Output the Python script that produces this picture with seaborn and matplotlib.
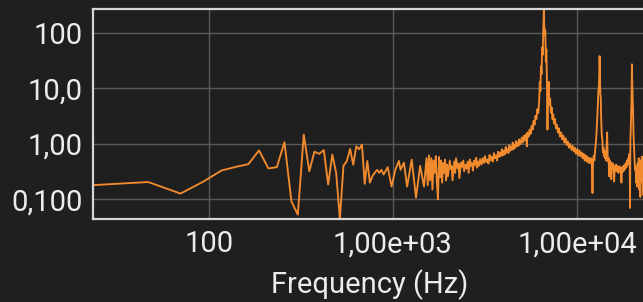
import matplotlib
matplotlib.use("Agg")
import matplotlib.pyplot as plt
from matplotlib.ticker import NullLocator
import seaborn as sns
import pandas as pd

# FFT bin width of the analyser (48 kHz, 2048 points)
bin_width_hz = 23.4375

# bin index and magnitude
bin_index = [
    1, 2, 3, 4, 5, 6, 7, 8, 9, 10, 11, 12, 13, 14, 15, 16, 17, 18, 19, 20, 21,
    22, 23, 24, 25, 26, 27, 28, 29, 30, 31, 32, 33, 34, 35, 36, 37, 38, 40, 41,
    42, 44, 46, 47, 49, 51, 54, 57, 60, 63, 65,
    66, 67, 68, 69, 70, 71, 72, 73, 74, 75, 76, 77, 78, 79, 80, 81, 82, 83,
    84, 85, 87, 88, 89, 90, 92, 93, 94, 96, 97, 98, 100, 101, 103, 104, 106,
    107, 109, 110, 112, 113, 115, 116, 118, 119, 121, 122, 124, 125, 127,
    129, 131, 133, 135, 137, 139, 141, 143, 145, 147, 149, 151, 153, 155, 157,
    159, 161, 163, 165, 167, 169, 171, 173, 175, 177, 179, 181, 183, 185, 187,
    189, 191, 193, 195, 197, 199, 201, 203, 205, 207, 209,
    211, 214, 217, 220, 223, 226, 228, 230, 233, 236, 239, 242, 245, 248, 251,
    254, 257, 260, 263, 266, 268, 270, 272, 274, 276, 278, 280, 282, 283, 285,
    287, 289, 291, 293, 295, 297, 300, 302, 305, 308, 311, 314, 317, 320, 324,
    328, 332, 336, 340, 345, 350, 355, 360, 365, 370, 375, 380, 386, 392, 398,
    404, 410, 416, 422, 428, 434, 440, 446, 452, 458, 464, 470, 476, 482, 488,
    494, 500,
    506, 510, 514, 518, 522, 526, 530, 534, 538, 542, 546, 550, 554, 557, 560,
    563, 566, 568, 571, 574, 578, 582, 586, 590, 594, 598, 602, 606, 610, 614,
    618, 622, 626, 630, 634, 638, 642, 646, 650, 655, 660, 665, 670, 675, 679,
    684, 690, 696, 702, 708, 714, 720, 726, 732, 738, 744, 750, 756, 762, 768,
    774, 780, 786, 792, 798, 804, 810, 815, 820, 825, 828, 832, 836, 840, 844,
    848, 852, 856, 860, 865, 870, 876, 882, 888, 894, 900, 906, 912, 918, 924,
    930, 936, 942, 948, 954, 960, 966, 972, 978, 984, 990, 1000, 1010, 1023,
]
magnitude = [
    0.18, 0.205, 0.127, 0.21, 0.33, 0.385, 0.43, 0.76, 0.36, 0.38, 1.07, 0.092,
    0.053, 1.47, 0.32, 0.72, 0.66, 0.77, 0.185, 0.64, 0.30,
    0.0437, 0.40, 0.49, 0.81, 0.42, 0.90, 0.80, 0.97, 0.19, 0.49, 0.20, 0.26,
    0.30, 0.34, 0.30, 0.34, 0.28, 0.38, 0.25, 0.17, 0.34, 0.49, 0.34, 0.46,
    0.17, 0.52, 0.107, 0.40, 0.17, 0.55,
    0.18, 0.62, 0.22, 0.55, 0.15, 0.50, 0.30, 0.60, 0.20, 0.10, 0.58, 0.25,
    0.50, 0.20, 0.45, 0.30, 0.52, 0.22,
    0.42, 0.26, 0.50, 0.35, 0.40, 0.22, 0.48, 0.30, 0.55, 0.36, 0.44, 0.24,
    0.46, 0.38, 0.50, 0.32, 0.42, 0.36, 0.48, 0.30, 0.52, 0.40, 0.45, 0.33,
    0.50, 0.42, 0.56, 0.37, 0.48, 0.40, 0.53,
    0.42, 0.55, 0.45, 0.60, 0.47, 0.52, 0.44, 0.63, 0.50, 0.58, 0.48, 0.68,
    0.55, 0.62, 0.50, 0.72, 0.58, 0.70, 0.60, 0.80, 0.62, 0.75, 0.64, 0.88,
    0.70, 0.80, 0.68, 0.95, 0.75, 0.88, 0.78, 1.05, 0.80, 0.95, 0.85, 1.12,
    0.90, 1.05, 0.92, 1.20, 0.98,
    1.0, 1.3, 1.05, 1.4, 1.15, 1.5, 0.9, 1.6, 1.35, 1.8, 1.5, 2.1, 1.8, 2.6,
    2.2, 3.2, 2.8, 4.2, 3.6, 6.0, 13, 9, 25, 18, 55, 40, 120, 264, 150, 90,
    110, 30, 50, 14, 1.8, 9, 13, 5, 6.5, 3.6, 4.5, 2.8, 3.4, 2.3, 2.8,
    1.9, 2.2, 1.6, 1.9, 1.35, 1.6, 1.2, 1.4, 1.05, 1.25, 0.95, 1.1, 0.85, 1.0,
    0.78, 0.92, 0.72, 0.85, 0.66, 0.80, 0.62, 0.76, 0.60, 0.70, 0.55, 0.66,
    0.50, 0.62, 0.48, 0.58, 0.45, 0.55,
    0.45, 0.55, 0.42, 0.13, 0.50, 0.60, 0.50, 0.70, 0.90, 1.2, 1.8, 3.0, 5.0,
    8.4, 10, 15, 38, 25, 8, 7, 2.5, 1.4, 1.2, 0.70, 0.85, 0.60, 0.75, 0.55,
    0.70, 0.50, 0.90, 1.6, 0.60, 0.48, 0.55, 0.26, 0.50, 0.40, 0.47, 0.23,
    0.45, 0.36, 0.44, 0.34, 0.21, 0.40, 0.33, 0.42, 0.32, 0.40, 0.30, 0.38,
    0.31, 0.39, 0.30, 0.20, 0.37, 0.31, 0.40, 0.33, 0.42, 0.35, 0.45, 0.38,
    0.50, 0.42, 0.55, 0.48, 0.65, 0.59, 0.07, 1.2, 1.8, 3.5, 6.3, 27, 12, 7,
    4, 1.5, 0.90, 0.55, 0.34, 0.40, 0.20, 0.34, 0.17, 0.45, 0.25, 0.55, 0.15,
    0.40, 0.11, 0.50, 0.30, 0.59, 0.20, 0.45, 0.12, 0.40, 0.30, 0.35, 0.30,
    0.30,
]

x_ticks = [100, 1000, 10000]
x_tick_labels = ["100", "1,00e+03", "1,00e+04"]
y_ticks = [0.1, 1, 10, 100]
y_tick_labels = ["0,100", "1,00", "10,0", "100"]

bg = "#1f1f1f"
fg = "#ececec"

df = pd.DataFrame({"bin": bin_index, "magnitude": magnitude})
df["frequency"] = df["bin"] * bin_width_hz

sns.set_style("dark")
plt.rcParams["font.family"] = ["Roboto", "DejaVu Sans"]
plt.rcParams["font.size"] = 21

fig = plt.figure(figsize=(6.43, 3.02), dpi=100, facecolor=bg)
ax = fig.add_axes([0.1442, 0.2738, 0.862, 0.6954], facecolor=bg)

sns.lineplot(data=df, x="frequency", y="magnitude", ax=ax, color="#f28a2e",
             linewidth=1.35, estimator=None, sort=True)

ax.set_xscale("log")
ax.set_yscale("log")
ax.set_xlim(bin_width_hz, 24000)
ax.set_ylim(0.0437, 264)
ax.xaxis.set_minor_locator(NullLocator())
ax.yaxis.set_minor_locator(NullLocator())
ax.set_xticks(x_ticks, x_tick_labels)
ax.set_yticks(y_ticks, y_tick_labels)
ax.tick_params(axis="both", length=0, colors=fg, labelsize=21)
ax.tick_params(axis="y", pad=7)
ax.tick_params(axis="x", pad=8)
ax.grid(True, color="#5a5a5a", linewidth=1.0)
for spine in ax.spines.values():
    spine.set_color("#d6d6d6")
    spine.set_linewidth(1.6)
ax.set_ylabel("")
ax.set_xlabel("Frequency (Hz)", color=fg, fontsize=21, labelpad=8)

fig.savefig("out.png", dpi=100, facecolor=bg)
